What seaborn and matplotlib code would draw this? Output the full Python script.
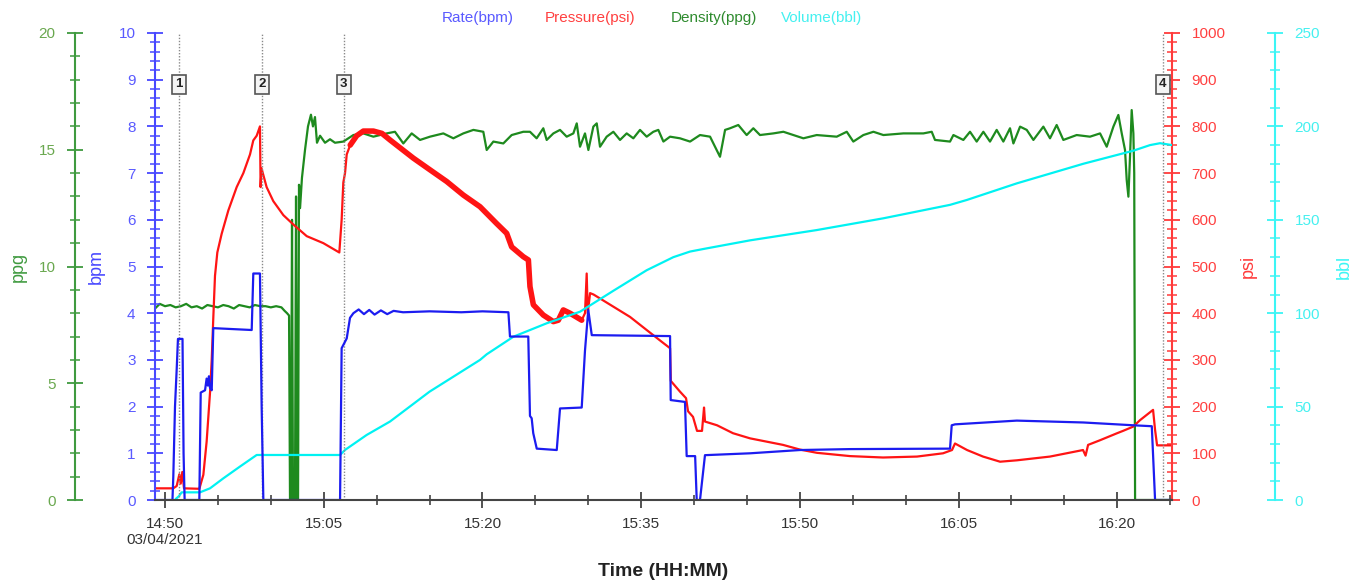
import matplotlib
matplotlib.use("Agg")
import matplotlib.pyplot as plt
import seaborn as sns
from matplotlib.ticker import MultipleLocator, FixedLocator

# ---------------- data (time = minutes after 14:00) ----------------
rate_t = [49.05, 50.70, 50.78, 50.94, 51.10, 51.22, 51.65, 51.75, 51.85, 53.24, 53.37, 53.78, 53.93,
          54.05, 54.15, 54.25, 54.41, 54.56, 58.19, 58.34, 58.97, 59.13, 59.29, 66.54, 66.69, 67.17,
          67.48, 67.8, 68.3, 68.8, 69.3, 69.8, 70.4, 71.0, 71.6, 72.5, 75.0, 78.0, 80.0, 82.45, 82.6,
          84.33, 84.49, 84.65, 84.8, 85.13, 87.02, 87.33, 89.38, 89.69, 90.0, 90.33, 97.73, 97.79,
          99.14, 99.3, 100.1, 100.25, 100.56, 101.03, 105.29, 110.0, 114.74, 124.19, 124.35, 124.66,
          130.5, 136.79, 141.52, 143.26, 143.57, 145.17]
rate_bpm = [0, 0, 0.5, 2.0, 2.8, 3.45, 3.45, 1.0, 0, 0, 2.3, 2.35, 2.6,
            2.45, 2.65, 2.4, 2.35, 3.68, 3.64, 4.85, 4.85, 2.0, 0, 0, 3.25, 3.46,
            3.9, 4.0, 4.08, 3.98, 4.07, 3.97, 4.06, 3.98, 4.05, 4.02, 4.04, 4.02, 4.04, 4.02, 3.5,
            3.5, 1.8, 1.75, 1.43, 1.1, 1.07, 1.96, 1.98, 3.2, 4.07, 3.53, 3.51, 2.14,
            2.1, 0.94, 0.94, 0, 0, 0.96, 1.0, 1.07, 1.09, 1.1, 1.6, 1.62,
            1.7, 1.66, 1.6, 1.58, 0, 0]

press_t = [49.05, 50.78, 51.10, 51.35, 51.48, 51.63, 51.79, 53.24, 53.62, 53.93, 54.25, 54.41, 54.56,
           54.72, 54.94, 55.35, 55.98, 56.77, 57.4, 58.03, 58.34, 58.66, 58.97, 59.03, 59.12, 59.6,
           60.23, 61.18, 62.12, 63.39, 64.96, 66.47, 66.69, 66.85, 67.01, 67.17, 67.5, 68.11, 68.74,
           69.69, 70.5, 71.26, 73.47, 75.04, 76.62, 78.19, 79.77, 81.34, 82.29, 82.76, 83.86, 84.34,
           84.49, 84.81, 85.75, 86.7, 87.17, 87.64, 88.27, 89.38, 89.69, 89.85, 89.95, 90.17, 90.5,
           92.37, 93.95, 95.52, 97.1, 97.73, 97.8, 98.67, 99.24, 99.43, 99.9, 100.28, 100.75, 100.94,
           101.03, 102.17, 103.68, 105.29, 108.41, 110.0, 111.62, 114.74, 117.86, 121.07, 123.53,
           124.38, 124.66, 125.8, 127.31, 128.92, 130.52, 133.64, 136.76, 137.0, 137.24, 138.37,
           139.98, 140.54, 141.49, 142.15, 143.38, 143.57, 143.76, 145.17]
press_psi = [25, 25, 30, 55, 35, 60, 25, 24, 54, 125, 230, 300, 390,
             480, 530, 570, 620, 670, 700, 740, 770, 780, 800, 670, 710, 670,
             640, 610, 590, 565, 550, 530, 600, 680, 700, 740, 760, 780, 790,
             790, 785, 771, 732, 707, 682, 653, 628, 592, 571, 542, 521, 514,
             457, 418, 396, 382, 385, 407, 400, 385, 400, 485, 400, 443, 440,
             414, 392, 364, 336, 325, 255, 232, 218, 190, 178, 148, 148, 198,
             168, 160, 143, 132, 118, 108, 101, 94, 91, 93, 100,
             107, 121, 107, 93, 82, 85, 93, 107, 95, 118, 128,
             143, 148, 157, 171, 193, 150, 117, 117]

dens_t = [49.05, 49.5, 50.0, 50.5, 51.0, 51.5, 52.0, 52.5, 53.0, 53.5, 54.0, 54.5, 55.0, 55.5, 56.0,
          56.5, 57.0, 57.5, 58.0, 58.5, 59.0, 59.5, 60.0, 60.5, 61.0, 61.3, 61.53, 61.72, 61.81, 61.9,
          62.0, 62.09, 62.28, 62.38, 62.47, 62.57, 62.66, 62.76, 62.94, 63.23, 63.51, 63.79, 63.98,
          64.17, 64.36, 64.65, 65.12, 65.59, 66.06, 66.85, 67.8, 68.74, 69.69, 70.95, 71.73, 72.52,
          73.31, 74.1, 75.04, 76.3, 77.25, 78.19, 79.14, 80.08, 80.4, 81.03, 81.97, 82.76, 83.86,
          84.49, 85.12, 85.75, 86.07, 86.7, 87.33, 87.96, 88.59, 88.91, 89.22, 89.69, 90.01, 90.48,
          90.8, 91.11, 91.74, 92.37, 93.0, 93.63, 94.26, 94.89, 95.52, 96.15, 96.62, 97.1, 97.73,
          98.67, 99.62, 100.56, 101.51, 101.98, 102.45, 102.93, 103.4, 104.18, 104.97, 105.6, 106.23,
          107.49, 108.44, 109.38, 110.33, 111.59, 113.48, 114.43, 115.05, 116.0, 116.95, 117.89,
          119.78, 121.67, 122.46, 122.77, 124.19, 124.51, 125.45, 126.08, 126.71, 127.34, 127.97,
          128.6, 129.23, 129.86, 130.18, 130.81, 131.44, 132.07, 133.01, 133.64, 134.27, 134.9,
          136.16, 137.42, 138.37, 139.0, 139.63, 140.1, 140.42, 140.73, 140.89, 141.05, 141.21,
          141.36, 141.52, 141.6, 141.68, 145.17]
dens_ppg = [8.2, 8.4, 8.3, 8.35, 8.25, 8.3, 8.4, 8.25, 8.3, 8.2, 8.35, 8.3, 8.25, 8.35, 8.3,
            8.2, 8.35, 8.3, 8.25, 8.35, 8.3, 8.3, 8.25, 8.3, 8.25, 8.1, 8.0, 7.9, 0, 0,
            12.0, 0, 0, 13.0, 0, 0, 13.5, 12.5, 13.8, 15.0, 16.0, 16.5, 16.0,
            16.4, 15.3, 15.6, 15.3, 15.45, 15.3, 15.35, 15.63, 15.7, 15.56, 15.7, 15.77, 15.27,
            15.7, 15.42, 15.56, 15.7, 15.49, 15.7, 15.85, 15.77, 14.99, 15.35, 15.27, 15.63, 15.77,
            15.77, 15.49, 15.92, 15.42, 15.7, 15.85, 15.56, 15.7, 16.13, 15.13, 15.7, 14.99, 15.99,
            16.13, 15.13, 15.56, 15.77, 15.42, 15.7, 15.49, 15.85, 15.56, 15.77, 15.85, 15.35, 15.56,
            15.49, 15.35, 15.63, 15.56, 15.13, 14.70, 15.85, 15.92, 16.06, 15.63, 15.92, 15.63,
            15.70, 15.77, 15.63, 15.49, 15.63, 15.56, 15.77, 15.35, 15.63, 15.77, 15.63,
            15.70, 15.70, 15.77, 15.42, 15.35, 15.63, 15.42, 15.77, 15.35, 15.77, 15.35,
            15.85, 15.35, 15.92, 15.27, 15.99, 15.85, 15.42, 15.99, 15.49, 16.06, 15.42,
            15.63, 15.56, 15.70, 15.13, 15.99, 16.49, 15.70, 14.99, 13.7, 12.99, 14.8,
            16.7, 15.7, 14.0, 0, 0]

vol_t = [51.0, 51.3, 51.57, 53.3, 54.25, 55.51, 57.08, 58.66, 59.13, 66.54, 67.01, 69.05, 71.26, 75.0,
         79.77, 80.4, 82.92, 86.07, 89.22, 92.37, 95.52, 98.04, 99.62, 101.0, 105.29, 111.59, 117.89,
         124.19, 125.77, 130.5, 136.79, 141.52, 143.1, 144.04, 145.17]
vol_bbl = [0.5, 2.0, 4.1, 4.1, 6.25, 11.6, 17.9, 24.1, 24.1, 24.1, 26.8, 34.8, 42, 58,
           75, 78, 87.4, 94.6, 100.8, 112, 123, 130, 133, 134.5, 139, 144.5, 150.8,
           158, 160.6, 169.5, 180, 187, 190, 191, 190]

event_t = [51.3, 59.16, 66.9, 144.3]
event_labels = ["1", "2", "3", "4"]

xtick_pos = [50, 65, 80, 95, 110, 125, 140]
xtick_labels = ["14:50\n03/04/2021", "15:05", "15:20", "15:35", "15:50", "16:05", "16:20"]

legend_names = ["Rate(bpm)", "Pressure(psi)", "Density(ppg)", "Volume(bbl)"]

# ---------------- style ----------------
sns.set_style("white")
plt.rcParams['font.family'] = ['Liberation Sans', 'DejaVu Sans']

BLUE, RED, GREEN, CYAN = "#1c1cf0", "#ff1414", "#1e8a1e", "#00f2f2"
BLUE_AX, RED_AX, GREEN_AX, CYAN_AX = "#4848ff", "#ff3a3a", "#3f9a3f", "#3cf5f5"
BLUE_TX, RED_TX, GREEN_TX, CYAN_TX = "#5a5aff", "#ff4040", "#6aa84f", "#45f0f0"

W, H = 1358, 581
PX = 72.0 / 100.0  # points per pixel at 100 dpi
fig = plt.figure(figsize=(W / 100, H / 100), dpi=100)
L, R, T, B = 155, 1172, 33, 500
ax = fig.add_axes([L / W, 1 - B / H, (R - L) / W, (B - T) / H])
ax_ppg = ax.twinx()
ax_psi = ax.twinx()
ax_bbl = ax.twinx()

for a in (ax, ax_ppg, ax_psi, ax_bbl):
    a.patch.set_visible(False)
    for s in a.spines.values():
        s.set_visible(False)
ax.set_zorder(5)

# ---------------- lines ----------------
sns.lineplot(x=dens_t, y=dens_ppg, ax=ax_ppg, color=GREEN, lw=1.6, estimator=None, sort=False, legend=False)
sns.lineplot(x=vol_t, y=vol_bbl, ax=ax_bbl, color=CYAN, lw=1.6, estimator=None, sort=False, legend=False)
sns.lineplot(x=press_t, y=press_psi, ax=ax_psi, color=RED, lw=1.6, estimator=None, sort=False, legend=False)
band_t = [t for t in press_t if 67.3 <= t <= 89.4]
band_p = [p for t, p in zip(press_t, press_psi) if 67.3 <= t <= 89.4]
sns.lineplot(x=band_t, y=band_p, ax=ax_psi, color=RED, lw=4.0, estimator=None, sort=False, legend=False)
sns.lineplot(x=rate_t, y=rate_bpm, ax=ax, color=BLUE, lw=1.6, estimator=None, sort=False, legend=False)

# event markers
for t, lab in zip(event_t, event_labels):
    ax.axvline(t, color="#8a8a8a", ls=(0, (1, 1.2)), lw=1.0, zorder=1)
    ax.text(t, 8.9, lab, ha="center", va="center", fontsize=9.5, fontweight="bold", color="#222222",
            bbox=dict(boxstyle="square,pad=0.25", fc="#f4f4f4", ec="#555555", lw=1.2), zorder=6)

# ---------------- axes ----------------
ax.set_xlim(49.05, 145.17)
ax.set_ylim(0, 10)
ax_ppg.set_ylim(0, 20)
ax_psi.set_ylim(0, 1000)
ax_bbl.set_ylim(0, 250)

# x axis
ax.spines['bottom'].set_visible(True)
ax.spines['bottom'].set_color("#444444")
ax.spines['bottom'].set_linewidth(1.5)
ax.xaxis.set_major_locator(FixedLocator(xtick_pos))
ax.set_xticklabels(xtick_labels)
ax.xaxis.set_minor_locator(MultipleLocator(5))
ax.tick_params(axis='x', which='major', direction='inout', length=12, width=1.3, color="#444444",
               labelsize=11, labelcolor="#333333", pad=6, bottom=True)
ax.tick_params(axis='x', which='minor', direction='inout', length=7, width=1.2, color="#444444", bottom=True)
ax.set_xlabel("Time (HH:MM)", fontsize=14, fontweight="bold", color="#222222")
ax.xaxis.set_label_coords(0.5, -0.135)

def style_y(a, side, color, tcolor, major, minor, label, lx):
    sp = a.spines[side]
    sp.set_visible(True)
    sp.set_color(color)
    sp.set_linewidth(1.5)
    a.yaxis.set_major_locator(MultipleLocator(major))
    a.yaxis.set_minor_locator(MultipleLocator(minor))
    a.tick_params(axis='y', which='major', direction='inout', length=12, width=1.3, color=color,
                  labelcolor=tcolor, labelsize=11, pad=8,
                  left=(side == 'left'), right=(side == 'right'),
                  labelleft=(side == 'left'), labelright=(side == 'right'))
    a.tick_params(axis='y', which='minor', direction='inout', length=7, width=1.1, color=color,
                  left=(side == 'left'), right=(side == 'right'))
    a.set_ylabel(label, color=color, fontsize=13)
    a.yaxis.set_label_position(side)
    a.yaxis.set_label_coords(lx, 0.5)

ax_ppg.yaxis.set_ticks_position('left')
ax_ppg.spines['left'].set_position(('outward', 80 * PX))
style_y(ax_ppg, 'left', GREEN_AX, GREEN_TX, 5, 1, "ppg", (27 - L) / (R - L))
style_y(ax, 'left', BLUE_AX, BLUE_TX, 1, 0.2, "bpm", (105 - L) / (R - L))
style_y(ax_psi, 'right', RED_AX, RED_TX, 100, 20, "psi", (1240 - L) / (R - L))
ax_bbl.spines['right'].set_position(('outward', 103 * PX))
style_y(ax_bbl, 'right', CYAN_AX, CYAN_TX, 50, 10, "bbl", (1336 - L) / (R - L))
for a in (ax_ppg, ax_psi, ax_bbl):
    a.tick_params(axis='x', which='both', bottom=False, labelbottom=False)

# legend texts at top
for name, col, xc in zip(legend_names, [BLUE_TX, RED_TX, "#2e8b2e", CYAN_TX], [478, 590, 714, 822]):
    fig.text(xc / W, 1 - 18 / H, name, color=col, fontsize=11, ha="center", va="center")

fig.savefig("out.png", dpi=100)
